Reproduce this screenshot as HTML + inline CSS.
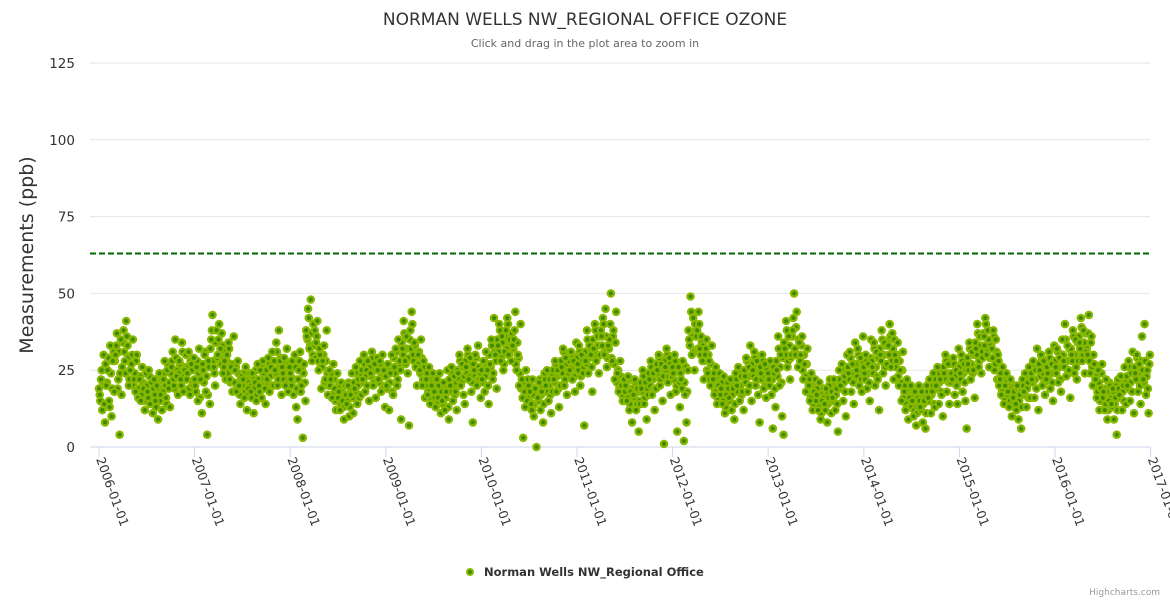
<!DOCTYPE html>
<html><head><meta charset="utf-8"><style>
html,body{margin:0;padding:0;background:#fff;}
svg{display:block;font-family:"DejaVu Sans","Liberation Sans",sans-serif;}
</style></head><body>
<svg id="chart" width="1170" height="600" viewBox="0 0 1170 600">
<text x="585" y="25" text-anchor="middle" font-size="17" fill="#333">NORMAN WELLS NW_REGIONAL OFFICE OZONE</text>
<text x="585" y="47" text-anchor="middle" font-size="11" fill="#666">Click and drag in the plot area to zoom in</text>
<g id="grid"></g>
<g id="yticks"></g>
<g id="xticks"></g>
<text transform="translate(33,255) rotate(-90)" text-anchor="middle" font-size="19" fill="#333">Measurements (ppb)</text>
<g id="points"></g>
<line id="limit" stroke="#006400" stroke-width="2" stroke-dasharray="6,3"></line>
<g>
<circle cx="470" cy="572" r="3" fill="#3f8a00" stroke="#88b800" stroke-width="2"></circle>
<text x="484" y="576" font-size="11.5" font-weight="bold" fill="#333">Norman Wells NW_Regional Office</text>
</g>
<text x="1160" y="595" text-anchor="end" font-size="9" fill="#999">Highcharts.com</text>
</svg>
<script>
const years = [2006,2007,2008,2009,2010,2011,2012,2013,2014,2015,2016];
const yTicks = [0,25,50,75,100,125];
const xTickYears = [2006,2007,2008,2009,2010,2011,2012,2013,2014,2015,2016,2017];
const thresholdValue = 63;
const v2006 = [[17,22,12,30,8,20],[25,15,33,10,28,18],[30,37,22,4,35,26],[38,28,41,33,20,25],[27,35,22,18,30,16],[22,15,26,19,12,24],[18,25,14,21,11,22],[15,20,9,24,17,12],[22,28,16,25,19,13],[26,31,20,35,23,17],[28,22,34,18,25,30],[24,31,17,27,20,29]];
const v2007 = [[20,26,15,32,22,11],[25,30,18,4,28,14],[35,43,26,20,38,30],[40,32,37,24,28,22],[30,34,22,26,18,36],[25,18,28,20,14,23],[22,16,26,12,19,24],[18,24,11,21,15,27],[20,25,16,28,22,14],[22,29,18,26,31,20],[25,34,20,38,28,17],[24,29,20,32,18,26]];
const v2008 = [[22,28,17,30,13,9],[25,31,20,3,27,15],[36,45,32,48,28,40],[38,34,41,25,30,19],[28,33,22,38,17,25],[22,16,27,19,12,24],[18,12,21,15,9,20],[14,20,10,17,24,11],[19,26,14,22,28,17],[22,30,18,25,28,15],[24,31,20,27,16,29],[22,28,18,30,25,13]];
const v2009 = [[20,27,12,24,30,17],[26,32,20,35,28,9],[32,41,28,36,24,7],[38,44,30,34,26,20],[30,25,35,20,28,16],[22,17,26,14,20,24],[18,13,22,16,24,11],[15,21,12,18,25,9],[20,26,15,23,18,12],[24,30,20,27,17,14],[26,32,22,29,18,8],[25,30,20,33,22,16]];
const v2010 = [[22,28,18,31,25,14],[27,35,22,42,30,19],[33,40,28,36,25,31],[38,42,30,35,28,33],[35,44,25,30,20,40],[22,3,18,25,15,20],[18,14,22,10,19,0],[16,21,12,18,8,24],[20,25,15,22,11,18],[22,28,18,25,13,20],[26,32,20,29,17,24],[25,31,22,28,18,34]];
const v2011 = [[27,33,20,30,24,7],[28,38,24,33,30,18],[32,40,28,36,24,30],[36,42,30,45,26,33],[35,50,28,38,22,44],[24,18,28,20,15,22],[20,15,23,12,18,8],[17,22,12,19,5,14],[19,25,14,21,9,17],[22,28,17,24,12,19],[25,30,20,27,15,1],[26,32,21,29,17,23]];
const v2012 = [[24,30,18,5,26,13],[22,28,2,17,8,25],[35,49,30,42,25,38],[38,44,32,36,28,22],[30,35,24,28,20,33],[22,17,26,14,20,24],[19,14,23,11,17,21],[16,22,12,19,9,24],[20,26,15,23,18,12],[23,29,18,26,33,15],[25,31,20,28,17,8],[24,30,19,27,16,22]];
const v2013 = [[22,28,17,6,24,13],[25,36,20,30,10,4],[32,41,26,36,22,30],[38,50,30,44,26,34],[30,36,22,27,18,32],[20,15,24,12,18,22],[17,12,21,9,15,19],[14,19,8,16,22,11],[16,22,12,19,5,25],[20,27,15,23,10,30],[24,31,18,27,14,34],[25,32,20,29,18,36]];
const v2014 = [[24,30,19,27,15,35],[26,34,20,31,22,12],[30,38,24,34,20,27],[33,40,26,37,22,30],[28,34,20,25,15,31],[18,12,22,9,16,20],[15,10,18,7,13,20],[13,18,8,15,6,20],[16,22,11,18,24,13],[20,26,14,22,17,10],[24,30,18,27,14,21],[22,29,17,25,14,32]];
const v2015 = [[24,30,18,27,15,6],[27,34,22,31,25,16],[32,40,26,36,24,29],[36,42,30,38,26,33],[32,38,25,35,22,28],[22,17,26,14,20,24],[18,13,22,10,16,20],[14,20,9,17,6,22],[18,24,13,21,26,16],[22,28,16,25,32,12],[25,30,20,28,17,22],[24,31,19,27,15,33]];
const v2016 = [[26,32,21,29,18,35],[28,40,23,33,25,16],[30,38,24,35,22,28],[34,42,28,38,24,31],[30,43,24,36,20,27],[22,16,25,12,19,27],[18,12,22,9,15,20],[14,19,9,16,4,22],[17,23,12,20,26,14],[20,28,15,24,31,11],[24,30,18,27,14,36],[22,40,17,25,11,30]];
const w2006 = [[19,15,25,21,14,27],[21,29,13,24,19,31],[28,33,19,31,24,17],[34,31,24,36,29,22],[25,30,20,24,28,19],[19,23,17,21,15,20],[20,16,23,18,14,19],[17,13,21,19,15,22],[18,24,20,14,27,21],[24,28,22,19,29,25],[24,27,20,31,23,26],[22,26,19,28,25,21]];
const w2007 = [[22,18,28,24,16,25],[27,21,31,23,17,26],[32,38,28,24,34,29],[35,30,27,33,26,31],[28,24,32,21,27,25],[21,26,19,24,17,22],[20,24,18,22,17,21],[20,16,23,19,25,17],[22,18,26,21,24,19],[25,21,27,23,20,28],[28,24,31,22,26,29],[26,22,28,24,21,27]];
const w2008 = [[24,20,27,22,26,19],[22,28,18,26,24,21],[38,35,42,33,37,30],[33,29,36,28,32,26],[26,30,21,28,24,20],[20,24,17,22,15,19],[16,20,14,18,13,17],[17,15,21,13,19,16],[21,18,24,20,16,23],[25,21,27,23,20,26],[26,23,29,21,25,27],[25,21,27,23,19,24]];
const w2009 = [[23,19,26,21,25,18],[29,24,31,22,27,25],[34,30,37,27,32,29],[35,32,40,28,33,30],[27,31,24,29,22,26],[20,24,18,22,16,21],[19,16,21,14,20,17],[18,14,20,16,19,13],[22,18,24,20,17,21],[25,22,28,21,26,23],[28,24,30,23,27,21],[27,23,29,22,26,24]];
const w2010 = [[25,21,28,23,27,20],[30,26,33,24,31,28],[35,31,38,29,34,27],[36,32,40,30,34,37],[32,38,27,34,29,24],[19,16,21,13,18,22],[16,20,12,17,14,19],[19,15,22,17,20,14],[22,18,24,20,17,23],[25,21,27,23,19,24],[28,24,31,22,27,25],[28,24,30,26,23,27]];
const w2011 = [[29,25,31,23,28,26],[31,27,35,29,32,26],[35,31,38,29,33,36],[38,33,40,31,36,29],[32,40,29,36,27,34],[21,25,19,23,17,20],[18,21,16,19,14,22],[19,16,21,14,18,15],[21,18,23,16,20,19],[24,20,26,22,19,25],[27,24,29,22,26,23],[28,25,30,23,27,24]];
const w2012 = [[26,22,28,20,25,21],[24,19,27,21,26,18],[38,33,44,36,31,40],[36,32,40,30,34,33],[28,32,25,30,22,27],[20,24,18,22,16,21],[17,21,15,19,13,18],[19,15,21,17,20,14],[22,18,25,20,17,23],[25,21,28,23,20,26],[27,23,29,22,26,24],[26,22,28,23,20,25]];
const w2013 = [[24,20,27,22,26,19],[28,23,32,26,21,29],[34,30,38,28,33,29],[36,42,32,39,30,35],[28,33,25,30,23,27],[18,22,16,20,14,19],[15,19,13,17,11,18],[16,12,18,14,20,15],[18,15,21,17,14,20],[22,19,25,21,18,24],[26,22,29,24,21,27],[27,23,30,25,22,28]];
const w2014 = [[26,22,28,24,21,29],[28,24,32,26,23,29],[32,28,35,30,26,33],[34,30,36,28,32,35],[26,30,23,28,21,25],[16,20,14,18,13,17],[13,17,12,15,11,16],[15,12,17,14,16,11],[18,15,21,17,20,14],[22,19,24,21,18,25],[26,22,28,24,21,27],[24,21,27,23,20,26]];
const w2015 = [[26,22,28,24,21,25],[29,25,32,27,24,30],[34,30,37,28,33,31],[37,33,40,31,35,29],[33,29,36,27,31,30],[20,24,18,22,16,21],[17,20,15,19,14,18],[16,12,19,15,18,13],[20,17,23,19,16,22],[24,21,26,22,19,27],[27,23,29,24,21,26],[26,22,29,24,21,28]];
const w2016 = [[28,24,31,26,22,29],[30,26,35,28,24,32],[32,28,36,30,26,34],[36,32,39,30,34,37],[32,37,28,34,26,30],[20,23,18,21,15,24],[16,19,14,18,12,21],[16,13,18,14,20,12],[19,16,22,18,15,21],[23,19,26,21,18,25],[26,22,29,24,20,28],[25,21,28,23,19,27]];
const seriesByYear = [v2006,v2007,v2008,v2009,v2010,v2011,v2012,v2013,v2014,v2015,v2016];
const extraByYear = [w2006,w2007,w2008,w2009,w2010,w2011,w2012,w2013,w2014,w2015,w2016];

const NS = "http://www.w3.org/2000/svg";
const plotL = 90, plotR = 1150, y0 = 447, yTop = 63, yMax = 125;
const x0 = 99, xPerYear = 95.6;
function xScale(t){ return x0 + (t - 2006) * xPerYear; }
function yScale(v){ return y0 - v / yMax * (y0 - yTop); }
function mk(tag, attrs, parent){ const e = document.createElementNS(NS, tag); for (const k in attrs) e.setAttribute(k, attrs[k]); parent.appendChild(e); return e; }

const grid = document.getElementById('grid');
const yt = document.getElementById('yticks');
yTicks.forEach(v => {
  const y = yScale(v);
  const ln = mk('line', {x1: plotL, x2: plotR, y1: y, y2: y, stroke: v === 0 ? '#ccd6eb' : '#e6e6e6', 'stroke-width': 1}, grid);
  
  
  const t = mk('text', {x: 75, y: y + 5, 'text-anchor': 'end', 'font-size': 13.5, fill: '#333'}, yt);
  t.textContent = v;
  
  
});

const xt = document.getElementById('xticks');
xTickYears.forEach(yr => {
  const x = xScale(yr);
  const tk = mk('line', {x1: x, x2: x, y1: y0, y2: y0 + 10, stroke: '#ccd6eb', 'stroke-width': 1}, xt);
  
  
  const t = mk('text', {x: 0, y: 0, 'font-size': 12.5, fill: '#333', transform: `translate(${x - 3},${y0 + 12}) rotate(70)`}, xt);
  t.textContent = yr + '-01-01';
  
  
});

const pts = document.getElementById('points');
function plotSet(sets, offset){
  sets.forEach((months, yi) => {
    months.forEach((vals, m) => {
      vals.forEach((v, i) => {
        const t = years[yi] + (m + (i + offset) / vals.length) / 12;
        const c = mk('circle', {cx: xScale(t).toFixed(1), cy: yScale(v).toFixed(1), r: 3.2, fill: '#3f8a00', stroke: '#88b800', 'stroke-width': 2.2}, pts);
        
        
      });
    });
  });
}
plotSet(extraByYear, 0.0);
plotSet(seriesByYear, 0.5);

const lim = document.getElementById('limit');
const ly = yScale(thresholdValue);
lim.setAttribute('x1', plotL); lim.setAttribute('x2', plotR);
lim.setAttribute('y1', ly); lim.setAttribute('y2', ly);
</script>
</body></html>
